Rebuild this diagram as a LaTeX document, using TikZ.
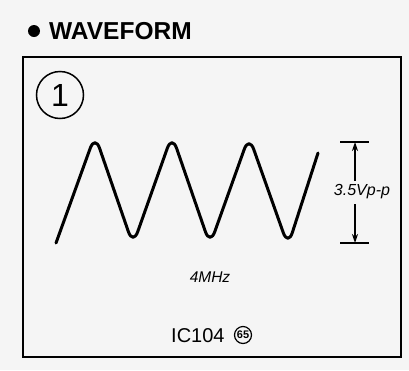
\documentclass[tikz,border=0pt]{standalone}
\usepackage{fontspec}
\setmainfont{Liberation Sans}
\usetikzlibrary{arrows.meta}
\begin{document}
\begin{tikzpicture}[x=1pt,y=-1pt,
  frame/.style={line width=2pt},
  wave/.style={line width=3pt,rounded corners=14pt,line join=round,line cap=round},
  dim/.style={line width=1.5pt},
  dimarrow/.style={line width=1.5pt,-{Stealth[length=9pt,width=6pt]}},
  lbl/.style={inner sep=0pt,font=\fontsize{16}{16}\selectfont\itshape}]
\fill[white!96!black] (0,0) rectangle (409,370);
\useasboundingbox (0,0) rectangle (409,370);
% title
\fill (34,31) circle (6);
\node[anchor=base west,inner sep=0pt,font=\fontsize{24.5}{25}\selectfont\bfseries] (title) at (49,39) {WAVEFORM};
% frame
\draw[frame] (23,57) rectangle (401,357);
\node[draw,circle,line width=1.5pt,minimum size=47pt,inner sep=0pt,font=\fontsize{32}{32}\selectfont] (num) at (60,95) {1};
% waveform
\draw[wave] (56,243) -- (95,135) -- (133,245) -- (172,135) -- (210,245) -- (249,136) -- (288,246) -- (318,153);
% dimension
\coordinate (tl) at (340,142); \coordinate (tr) at (369,142);
\coordinate (bl) at (340,243); \coordinate (br) at (369,243);
\draw[dim] (tl) -- (tr);
\draw[dim] (bl) -- (br);
\node[lbl] (amp) at (362,192) {3.5Vp-p};
\coordinate (ttop) at (355,142);
\coordinate (tbot) at (355,243);
\draw[dimarrow] (355,181) -- (ttop);
\draw[dimarrow] (355,204) -- (tbot);
% labels
\node[lbl,font=\fontsize{15.5}{15.5}\selectfont\itshape] (freq) at (210,277) {4MHz};
\node[anchor=base west,inner sep=0pt,font=\fontsize{20}{20}\selectfont] (ic) at (171,342) {IC104};
\node[draw,circle,line width=1.2pt,minimum size=17pt,inner sep=0pt,font=\fontsize{11}{11}\selectfont\bfseries] (pin) at (243,335) {65};
\end{tikzpicture}
\end{document}
